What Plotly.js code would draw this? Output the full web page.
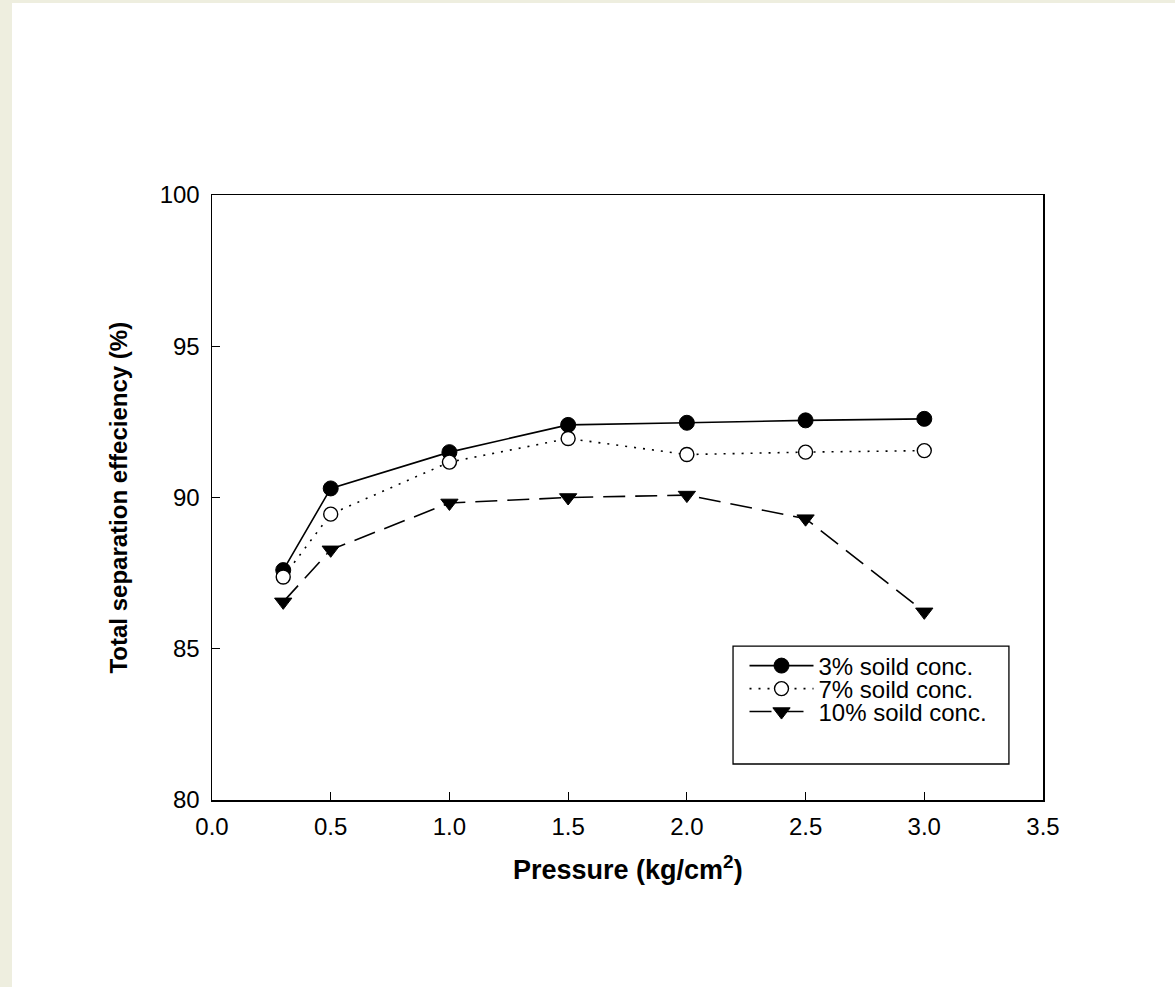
<!DOCTYPE html>
<html>
<head>
<meta charset="utf-8">
<script src="https://cdn.plot.ly/plotly-3.0.1.min.js"></script>
<style>
  html, body { margin: 0; padding: 0; background: #ffffff; }
  #chart { width: 1175px; height: 987px; }
</style>
</head>
<body>
<div id="chart"></div>
<script>
// Operating pressure (kg/cm2)
const pressure = [0.3, 0.5, 1.0, 1.5, 2.0, 2.5, 3.0];

// Total separation efficiency (%) for each solid concentration
const eff3 = [87.6, 90.3, 91.5, 92.4, 92.47, 92.55, 92.6];
const eff7 = [87.37, 89.45, 91.17, 91.95, 91.42, 91.5, 91.55];
const eff10 = [86.55, 88.27, 89.82, 90.0, 90.08, 89.3, 86.22];

const seriesNames = ['3% soild conc.', '7% soild conc.', '10% soild conc.'];

const xTicks = [0.0, 0.5, 1.0, 1.5, 2.0, 2.5, 3.0, 3.5];
const yTicks = [80, 85, 90, 95, 100];

const FONT = 'Liberation Sans, Arial, Helvetica, sans-serif';

const traces = [
  {
    x: pressure, y: eff3, name: seriesNames[0], legend: 'legend',
    type: 'scatter', mode: 'lines+markers',
    line: { color: '#000000', width: 1.6, dash: 'solid' },
    marker: { symbol: 'circle', size: 15, color: '#000000', line: { color: '#000000', width: 1 } }
  },
  {
    x: pressure, y: eff7, name: seriesNames[1], legend: 'legend2',
    type: 'scatter', mode: 'lines+markers',
    line: { color: '#000000', width: 1.6, dash: '2px,7px' },
    marker: { symbol: 'circle', size: 14, color: '#ffffff', line: { color: '#000000', width: 1.4 } }
  },
  {
    x: pressure, y: eff10, name: seriesNames[2], legend: 'legend3',
    type: 'scatter', mode: 'lines+markers',
    line: { color: '#000000', width: 1.6, dash: '22px,10px' },
    marker: { symbol: 'triangle-down', size: 15, color: '#000000', line: { color: '#000000', width: 1 } }
  }
];

// one legend box per series, stacked inside the framed key
function legendAt(y) {
  return {
    x: 0.6408, y: y, xanchor: 'left', yanchor: 'middle',
    bgcolor: 'rgba(0,0,0,0)', borderwidth: 0,
    font: { family: FONT, size: 24, color: '#000000' },
    itemwidth: 64, tracegroupgap: 0
  };
}

const layout = {
  width: 1175, height: 987,
  paper_bgcolor: '#eeeedf',
  plot_bgcolor: '#ffffff',
  margin: { l: 212, r: 132, t: 195, b: 187, pad: 0 },
  showlegend: true,
  font: { family: FONT, size: 24, color: '#000000' },
  xaxis: {
    range: [0, 3.5], tickvals: xTicks, ticktext: xTicks.map(v => v.toFixed(1)),
    ticks: 'inside', ticklen: 8, tickwidth: 1.2, tickcolor: '#000000',
    showline: true, linecolor: '#000000', linewidth: 1.5, mirror: true,
    showgrid: false, zeroline: false,
    tickfont: { family: FONT, size: 24, color: '#000000' },
    ticklabelstandoff: 5
  },
  yaxis: {
    range: [80, 100], tickvals: yTicks,
    ticks: 'inside', ticklen: 8, tickwidth: 1.2, tickcolor: '#000000',
    showline: true, linecolor: '#000000', linewidth: 1.5, mirror: true,
    showgrid: false, zeroline: false,
    tickfont: { family: FONT, size: 24, color: '#000000' },
    ticklabelstandoff: 6
  },
  legend: legendAt(0.2215),
  legend2: legendAt(0.1835),
  legend3: legendAt(0.1455),
  shapes: [
    // white page area inside the beige frame
    { type: 'rect', xref: 'paper', yref: 'paper', layer: 'below',
      x0: -0.2407, x1: 1.16, y0: -0.31, y1: 1.3174,
      fillcolor: '#ffffff', line: { width: 0 } },
    // legend frame
    { type: 'rect', xref: 'paper', yref: 'paper', layer: 'above',
      x0: 0.627, x1: 0.959, y0: 0.0595, y1: 0.2545,
      fillcolor: 'rgba(0,0,0,0)', line: { color: '#000000', width: 1.3 } }
  ],
  annotations: [
    { text: '<b>Pressure (kg/cm<sup>2</sup>)</b>', xref: 'paper', yref: 'paper',
      x: 0.5, y: -0.112, xanchor: 'center', yanchor: 'middle', showarrow: false,
      font: { family: FONT, size: 27, color: '#000000' } },
    { text: '<b>Total separation effeciency (%)</b>', xref: 'paper', yref: 'paper',
      x: -0.1131, y: 0.5, xanchor: 'center', yanchor: 'middle', textangle: -90,
      showarrow: false,
      font: { family: FONT, size: 24, color: '#000000' } }
  ]
};

Plotly.newPlot('chart', traces, layout, { displayModeBar: false, staticPlot: true });
</script>
</body>
</html>
